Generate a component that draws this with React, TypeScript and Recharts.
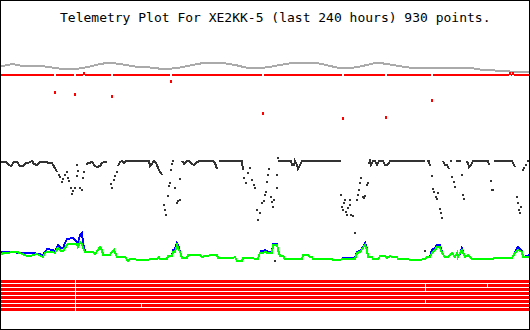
import { ComposedChart, Line, Scatter, XAxis, YAxis } from 'recharts';

const TITLE = 'Telemetry Plot For XE2KK-5 (last 240 hours) 930 points.';
const HOURS = 240;

// analog channels, [hour, raw value 0-255]
const greySamples: [number, number][] = [
  [0, 219], [3.2, 220], [5, 221], [8.6, 219.5], [14, 219], [20, 218.5], [24.5, 217], [29.1, 216],
  [33.6, 216], [36.8, 217], [40.5, 218.5], [45, 221], [49.5, 222], [54.1, 221], [60.9, 218.5],
  [67.7, 217.5], [74.5, 216], [81.4, 217.5], [88.2, 220.5], [92.7, 222], [99.5, 222], [106.4, 220],
  [113.2, 217], [120, 217.5], [126.8, 220], [133.6, 222], [142.7, 222], [149.5, 219], [156.4, 216.5],
  [163.2, 218.5], [171.4, 222], [176.8, 220.5], [183.6, 218], [190.5, 216.5], [199.5, 217],
  [206.4, 217.5], [213.2, 217], [217.7, 215.5], [224.5, 214.5], [231.4, 213.5], [240, 213],
];

const redLevel = 210;
const redDrops: [number, number][] = [
  [24.5, 193], [33.6, 191], [37.7, 212], [50.5, 189], [77.3, 204], [119.1, 172],
  [155.5, 167], [175, 168], [195.9, 185], [231.4, 212], [232.7, 212],
];

// dark channel: continuous stretches, then the scattered readings in the dips
const darkTrace: [number, number][][] = [
  [[0, 123], [1.4, 123], [2.7, 122.5], [3.6, 120], [4.5, 119], [5.9, 123], [7.3, 123], [8.6, 119],
   [10, 119], [11.4, 122], [12.3, 122], [14.1, 124], [15, 121], [16.4, 120], [17.7, 123], [19.1, 123],
   [20.5, 123], [21.8, 122], [23.2, 122], [24.5, 117], [25.5, 113]],
  [[38.6, 121], [40, 122], [41.4, 123], [42.7, 119], [43.6, 118], [45, 119], [45.9, 122], [46.8, 123], [48.2, 123]],
  [[53.2, 119], [54.1, 123], [55, 124], [55.9, 122], [56.8, 124], [67.3, 124], [67.7, 119], [68.6, 121],
   [69.5, 124], [70.5, 122], [71.4, 117], [72.3, 113], [73.2, 110]],
  [[82.3, 124], [83.2, 121], [84.5, 124], [85.5, 124], [86.8, 121], [87.7, 120], [89.1, 123], [90.5, 124],
   [96.4, 124], [97.3, 122], [98.2, 116]],
  [[99.1, 124], [109.5, 124], [110, 115]],
  [[125.9, 124], [131.8, 124], [132.3, 120], [133.2, 120], [133.6, 124], [134.5, 120], [135, 116],
   [135.9, 120], [136.8, 124], [154.5, 124]],
  [[167.3, 121], [167.7, 124], [168.2, 120], [169.1, 124], [170, 124], [170.9, 120], [171.8, 124],
   [172.7, 124], [173.6, 124], [174.5, 120], [175.5, 120], [176.4, 122], [176.8, 124], [192.7, 124]],
  [[193.6, 124], [194.5, 124], [195, 119]],
  [[200.9, 124], [201.8, 120], [202.7, 120], [203.6, 116]],
  [[206.8, 124], [209.1, 124]],
  [[211.4, 124], [212.3, 122], [212.7, 118], [213.6, 120], [214.5, 124], [221.4, 124], [221.8, 120]],
  [[224.1, 124], [232.3, 124], [232.7, 122], [233.2, 120], [233.6, 118]],
  [[239.1, 124], [240, 124]],
];
const darkPoints: [number, number][] = [
  [26.4, 110], [26.8, 108], [27.7, 103], [28.2, 106], [29.1, 110], [30, 113],
  [30.5, 107], [30.9, 104], [31.8, 97], [32.3, 91], [32.7, 94], [33.6, 97], [34.5, 120], [34.5, 109],
  [35, 114], [35.9, 97], [36.8, 95], [37.3, 107], [37.7, 113],
  [50, 101], [50.5, 97], [51.4, 105], [51.8, 109], [52.7, 113],
  [74.1, 80], [74.5, 75], [75, 70], [75.9, 89], [76.4, 99], [76.8, 102], [77.3, 115], [77.7, 121], [78.2, 124],
  [79.1, 97], [80, 82], [80.5, 84], [81.4, 85], [81.4, 106],
  [110.5, 107], [111.4, 102], [112.3, 112], [113.2, 117], [114.1, 105], [115, 100],
  [115.5, 97], [116.4, 75], [116.8, 65], [117.7, 72], [118.6, 82], [119.5, 84], [120, 90], [120.5, 93],
  [120.9, 103], [121.4, 110], [121.8, 116], [122.7, 88], [123.2, 83], [123.6, 78], [124.1, 85],
  [125.5, 110], [125.5, 97], [125.9, 127], [124.5, 24],
  [154.5, 90], [155, 78], [155.5, 75], [155.9, 82], [156.4, 85], [156.8, 73], [157.3, 70], [157.7, 77],
  [158.6, 85], [158.6, 80], [159.1, 70], [160, 69], [160.9, 52], [161.8, 85], [162.3, 90], [162.7, 95],
  [163.2, 102], [163.6, 107], [164.5, 88], [165, 87], [165.5, 89], [166.4, 100], [166.8, 102], [192.7, 34],
  [195.9, 109], [196.4, 96], [196.8, 93], [197.7, 88], [198.2, 86], [198.6, 92], [199.5, 76],
  [200, 72], [200.5, 67], [204.5, 124], [205, 108], [205.9, 103], [206.4, 98],
  [209.5, 110], [210, 90], [210.5, 86],
  [222.7, 104], [223.2, 95], [223.6, 95],
  [234.5, 88], [235, 82], [235.5, 75], [235.9, 72], [236.4, 78],
  [237.3, 115], [237.7, 117], [238.6, 120],
];

const greenSamples: [number, number][] = [
  [0, 31], [1.4, 32], [7.3, 33], [8.6, 32], [11.8, 29], [13.2, 29], [16.4, 31], [19.1, 28], [20, 32],
  [21, 33], [23.6, 33], [24.5, 32], [25.9, 37], [27.3, 34], [28.2, 34], [29.1, 37], [30, 40], [30.5, 41],
  [34.5, 41], [35, 38], [35.9, 43], [36.8, 41], [37.3, 37], [38.2, 33], [41.8, 33], [42.7, 31], [44.1, 35],
  [45, 38], [45.9, 35], [46.4, 30], [49.5, 30], [50.5, 33], [51.4, 35], [52.7, 28], [56.4, 28], [57.7, 24],
  [58.6, 26], [64, 25], [70.9, 26], [71.8, 28], [72.3, 26], [75.5, 26], [75.9, 29], [77.7, 29], [78.2, 33],
  [79.1, 33], [80, 40], [80.5, 37], [81.4, 33], [82.3, 27], [84.5, 27], [85, 30], [90.5, 30], [91.4, 28],
  [92.7, 29], [94.1, 29], [95, 30], [98.2, 30], [98.6, 27], [105.5, 27], [106.4, 28], [107.3, 24],
  [109.5, 24], [110, 27], [114.5, 27], [115.5, 26], [116.8, 26], [117.7, 32], [119.1, 32], [120, 33],
  [121.4, 32], [123.2, 32], [123.6, 40], [125.5, 40], [125.9, 35], [126.8, 29], [128.2, 29], [129.1, 26],
  [136.8, 26], [137.3, 30], [139.5, 30], [140.5, 28], [141.4, 28], [141.8, 26], [150.5, 26], [150.9, 25],
  [154.1, 25], [155, 26], [160.9, 26], [161.8, 32], [163.2, 33], [164.5, 37], [165.5, 40], [166.4, 35],
  [166.8, 28], [168.6, 28], [169.1, 26], [171.4, 26], [172.3, 29], [174.5, 29], [175.5, 27], [176.8, 29],
  [177.7, 28], [180, 28], [180.5, 26], [190, 25], [192.7, 26], [193.6, 28], [195, 28], [195.9, 32],
  [197.3, 35], [198.2, 38], [199.5, 38], [200.5, 32], [201.8, 28], [203.2, 28], [205, 32], [206.4, 28],
  [207.3, 32], [207.7, 28], [209.5, 35], [210.9, 28], [212.3, 30], [214.1, 26], [223.2, 26], [224.5, 27],
  [232.3, 27], [233.6, 32], [235, 35], [236.8, 33], [237.3, 28], [239, 28], [240, 28],
];

const blueRuns: [number, number][][] = [
  [[0, 33], [4, 33], [10, 32], [15, 32], [19.1, 30], [20, 33], [21, 36], [23.6, 35], [24.5, 33],
   [25.9, 40], [27.3, 37], [28.2, 37], [29.1, 42], [30, 46], [32.7, 47], [34.5, 43], [35, 42],
   [35.9, 50], [36.8, 52], [37.3, 42], [38.2, 33], [41.8, 33]],
  [[77.7, 29], [78.2, 35], [79.1, 36], [80, 42], [80.5, 40], [81.4, 33]],
  [[117.7, 34], [119.1, 34], [120, 35], [121.4, 33], [123.2, 33], [123.6, 41], [125.5, 41], [125.9, 35], [126.8, 29]],
  [[155, 27], [160.9, 27], [161.8, 33], [163.2, 34], [164.5, 38], [165.5, 42], [166.4, 36], [166.8, 28]],
  [[195, 28], [195.9, 35], [197.3, 37], [198.2, 40], [199.5, 40], [200.5, 33]],
  [[208.6, 30], [209.5, 37], [210.5, 30]],
  [[232.3, 27], [233.6, 33], [235, 38], [236.8, 34], [237.3, 28], [239, 29], [240, 30]],
];

// digital bits 1..8, hours where the bit is off
const bitGaps: number[][] = [
  [33.8], [33.8, 193, 221.1], [33.8, 193], [33.8], [33.8], [33.8, 193], [33.8, 63.9], [33.8],
];

const rows = (pairs: [number, number][]) => pairs.map(([h, v]) => ({ h, v }));
const joinRuns = (runs: [number, number][][]) =>
  runs.flatMap((run) => [...rows(run), { h: run[run.length - 1][0] + 0.01, v: null as number | null }]);

const levelLine = (level: number, cuts: number[], half: number) => {
  const out: { h: number; v: number | null }[] = [];
  let start = 0;
  [...cuts].sort((a, b) => a - b).forEach((c) => {
    out.push({ h: start, v: level }, { h: c - half, v: level }, { h: c, v: null });
    start = c + half;
  });
  out.push({ h: start, v: level }, { h: HOURS, v: level });
  return out;
};

const redLine = levelLine(redLevel, redDrops.map((d) => d[0]), 0.5);
const darkLine = joinRuns(darkTrace);
const blueLine = joinRuns(blueRuns);

const dot = (color: string, w: number, h: number) => (p: any) => (
  <rect x={p.cx - w / 2} y={p.cy - h / 2} width={w} height={h} fill={color} />
);

export default function App() {
  return (
    <div className="plot" style={{ position: 'absolute', left: 0, top: 0, width: 530, height: 330, background: '#fff' }}>
      <style>{'.plot svg * { shape-rendering: crispEdges; }'}</style>
      <div style={{ position: 'absolute', left: 0, top: 0 }}>
        <ComposedChart width={530} height={330} margin={{ top: 0, right: 1, bottom: 0, left: 1 }}>
          <XAxis type="number" dataKey="h" domain={[0, HOURS]} allowDataOverflow hide />
          <YAxis type="number" dataKey="v" domain={[-45, 285]} hide />
          <Line data={rows(greySamples)} dataKey="v" type="monotone" stroke="#aaaaaa" strokeWidth={2} dot={false} isAnimationActive={false} />
          <Line data={redLine} dataKey="v" type="linear" stroke="#ff0000" strokeWidth={2} dot={false} connectNulls={false} isAnimationActive={false} />
          <Scatter data={rows(redDrops)} dataKey="v" shape={dot('#ff0000', 2, 3)} isAnimationActive={false} />
          <Line data={darkLine} dataKey="v" type="linear" stroke="#333333" strokeWidth={2} dot={false} connectNulls={false} isAnimationActive={false} />
          <Scatter data={rows(darkPoints)} dataKey="v" shape={dot('#333333', 2, 2)} isAnimationActive={false} />
          <Line data={blueLine} dataKey="v" type="linear" stroke="#0000ff" strokeWidth={2} dot={false} connectNulls={false} isAnimationActive={false} />
          <Line data={rows(greenSamples)} dataKey="v" type="linear" stroke="#00ff00" strokeWidth={2} dot={false} isAnimationActive={false} />
        </ComposedChart>
      </div>
      <div style={{ position: 'absolute', left: 0, top: 280 }}>
        <ComposedChart width={530} height={32} margin={{ top: 0, right: 1, bottom: 0, left: 1 }}>
          <XAxis type="number" dataKey="h" domain={[0, HOURS]} allowDataOverflow hide />
          <YAxis type="number" dataKey="v" domain={[0.625, 8.625]} reversed hide />
          {bitGaps.map((gaps, i) => (
            <Line key={i} data={levelLine(i + 1, gaps, 0.25)} dataKey="v" type="linear" stroke="#ff0000" strokeWidth={3} dot={false} connectNulls={false} isAnimationActive={false} />
          ))}
        </ComposedChart>
      </div>
      <div style={{ position: 'absolute', left: 60, top: 10, fontFamily: "'DejaVu Sans Mono', monospace", fontSize: 13, lineHeight: '15px', whiteSpace: 'pre', color: '#000' }}>
        {TITLE}
      </div>
      <div style={{ position: 'absolute', inset: 0, border: '1px solid #000', boxSizing: 'border-box', pointerEvents: 'none' }} />
    </div>
  );
}
